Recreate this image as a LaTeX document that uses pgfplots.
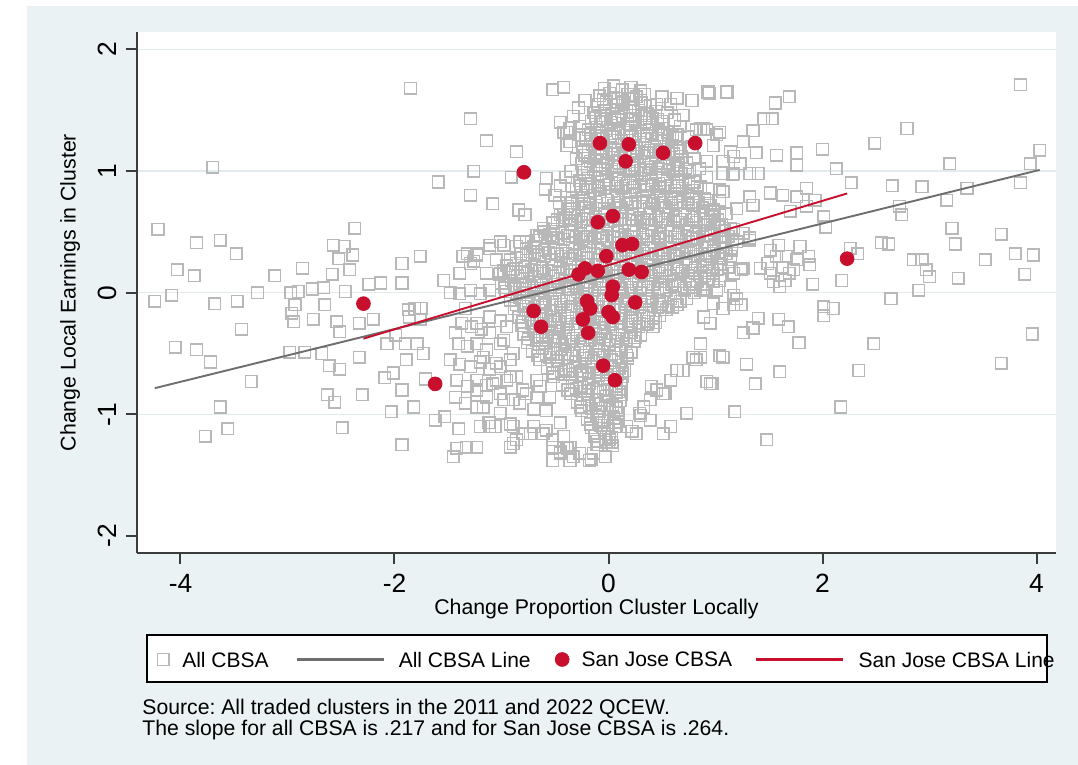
\documentclass[border=0pt]{standalone}
\usepackage{pgfplots}
\pgfplotsset{compat=1.18}
\usepackage{fontspec}
\setmainfont{Liberation Sans}
\frenchspacing

\definecolor{stbg}{HTML}{EAF2F3}
\definecolor{stgrid}{HTML}{E3EBEE}
\definecolor{staxis}{HTML}{3C3C3C}
\definecolor{sqgray}{HTML}{B8B8B8}
\definecolor{lngray}{HTML}{6E6E6E}
\definecolor{sjred}{HTML}{C8102E}

% legend keys with fixed cell widths
\pgfplotsset{
  sqkey/.style={legend image code/.code={\path (0pt,0pt) (17.25pt,0pt);
    \draw[##1] plot coordinates {(7.85pt,0pt)};}},
  grkey/.style={legend image code/.code={\path (0pt,0pt) (50.5pt,0pt);
    \path[draw=lngray, line width=1.05pt] (0pt,0pt) -- (43.5pt,0pt);}},
  dotkey/.style={legend image code/.code={\path (0pt,0pt) (19pt,0pt);
    \draw[##1] plot coordinates {(9.5pt,0pt)};}},
  rdkey/.style={legend image code/.code={\path (0pt,0pt) (50.7pt,0pt);
    \path[draw=sjred, line width=1.05pt] (0pt,0pt) -- (43.2pt,0pt);}},
}

\pgfplotstableread{
x y
-2.29 -0.09
-1.62 -0.75
-0.79 0.99
-0.08 1.23
0.19 1.22
0.16 1.08
0.51 1.15
0.81 1.23
-0.10 0.58
0.04 0.63
0.13 0.39
0.22 0.40
-0.02 0.30
-0.28 0.15
-0.22 0.20
-0.10 0.18
0.19 0.19
0.31 0.17
0.04 0.05
0.03 -0.02
-0.70 -0.15
-0.63 -0.28
-0.20 -0.07
-0.17 -0.13
-0.24 -0.22
0.00 -0.16
0.04 -0.20
0.25 -0.08
-0.19 -0.33
-0.05 -0.60
0.06 -0.72
2.23 0.28
}\sanjose

\begin{document}
\begin{tikzpicture}
\useasboundingbox (0,0) rectangle (539pt,-382.5pt);
\fill[white] (0,0) rectangle (539pt,-382.5pt);
\fill[stbg] (13.35pt,-3pt) rectangle (539pt,-382.5pt);
% legend frame
\filldraw[fill=white, draw=black, line width=0.6pt] (73.5pt,-317.5pt) rectangle (523.5pt,-341pt);

\begin{axis}[
  at={(68.5pt,-276.35pt)}, anchor=south west,
  scale only axis, width=459.5pt, height=260.2pt,
  xmin=-4.4065, xmax=4.1822, ymin=-2.138, ymax=2.141,
  clip marker paths=true,
  axis x line*=bottom, axis y line*=left,
  axis line style={staxis, line width=1pt},
  axis background/.style={fill=white},
  tick align=outside, major tick length=5.5pt,
  every tick/.style={staxis, line width=1pt},
  xtick={-4,-2,0,2,4}, ytick={-1,0,1,2},
  extra y ticks={-2}, extra y tick style={grid=none},
  ymajorgrids, grid style={stgrid, line width=0.8pt},
  /pgf/number format/assume math mode=true,
  tick label style={font=\fontsize{13.2pt}{15pt}\selectfont},
  xticklabel style={anchor=north, inner sep=0pt},
  yticklabel style={rotate=90, anchor=south, inner sep=0pt},
  xticklabel shift=5.1pt, yticklabel shift=4.6pt,
  xlabel={Change Proportion Cluster Locally},
  ylabel={Change Local Earnings in Cluster},
  label style={font=\fontsize{10.65pt}{13pt}\selectfont},
  xlabel style={at={(axis description cs:0.5,-0.1076)}, anchor=center},
  ylabel style={at={(axis description cs:-0.0727,0.5)}, anchor=center},
  legend columns=4,
  legend cell align=left,
  legend style={at={(axis description cs:0.01088,-0.2052)}, anchor=west,
    draw=none, fill=none, inner sep=0pt, outer sep=0pt,
    column sep=0pt, row sep=0pt,
    nodes={inner sep=0pt, text depth=0pt},
    font=\fontsize{10.5pt}{12.6pt}\selectfont},
]

% all CBSA clusters
\addplot[only marks, mark=square, mark size=2.9pt,
  mark options={draw=sqgray, line width=0.75pt, fill=none}, draw=sqgray, sqkey]
coordinates {
% far left
(-3.70,1.03) (-4.21,0.52) (-3.85,0.41) (-3.63,0.43) (-3.48,0.32) (-4.03,0.19)
(-3.87,0.14) (-4.08,-0.02) (-4.24,-0.07) (-3.68,-0.09) (-3.47,-0.07) (-3.28,0.00)
(-3.12,0.14) (-2.86,0.20) (-3.43,-0.30) (-4.05,-0.45) (-3.85,-0.47) (-3.72,-0.57)
(-3.34,-0.73) (-3.63,-0.94) (-3.56,-1.12) (-3.77,-1.18)
(-2.37,0.53) (-2.57,0.39) (-2.47,0.38) (-2.39,0.31) (-2.52,0.28) (-2.42,0.19)
(-2.58,0.15) (-2.97,0.00) (-2.90,0.01) (-2.77,0.03) (-2.66,0.04) (-2.46,0.01)
(-2.93,-0.10) (-2.96,-0.17) (-2.94,-0.24) (-2.76,-0.22) (-2.65,-0.10) (-2.54,-0.24)
(-2.51,-0.32) (-2.33,-0.25) (-2.20,-0.22) (-2.24,0.07) (-2.13,0.08)
(-2.98,-0.49) (-2.84,-0.49) (-2.68,-0.50) (-2.61,-0.60) (-2.51,-0.63) (-2.33,-0.53)
(-2.63,-0.84) (-2.56,-0.90) (-2.30,-0.84) (-2.49,-1.11)
(-1.93,0.24) (-1.93,0.08) (-1.87,-0.14) (-2.07,-0.42) (-1.99,-0.35) (-2.01,-0.66)
(-2.09,-0.70) (-1.93,-0.80) (-2.03,-0.98) (-1.93,-1.25)
% left of the main cloud
(-1.85,1.68) (-0.52,1.67) (-0.42,1.69) (-1.29,1.43) (-1.14,1.25) (-0.86,1.16)
(-1.26,1.00) (-1.59,0.91) (-1.29,0.80) (-1.08,0.73) (-0.91,0.95) (-0.58,0.94)
(-0.59,0.85) (-0.84,0.68) (-0.78,0.64) (-0.42,1.32) (-0.39,1.21)
(-1.76,0.30) (-1.54,0.10) (-1.36,0.30) (-1.29,0.24)
(-1.81,-0.13) (-1.75,-0.13) (-1.86,-0.20) (-1.76,-0.22) (-1.90,-0.42) (-1.79,-0.42)
(-1.73,-0.50) (-1.89,-0.55) (-1.71,-0.71) (-1.82,-0.94) (-1.62,-1.05) (-1.53,-1.02)
(-1.40,-1.12) (-1.45,-1.35) (-1.42,-1.28) (-1.33,-1.27) (-1.23,-1.27) (-1.12,-1.07)
(-1.06,-1.10) (-0.92,-1.27) (-0.86,-1.21) (-0.80,-1.16) (-0.70,-0.96) (-0.55,-0.86)
(-0.45,-1.07) (-0.42,-1.27) (-0.52,-1.38)
(-1.32,0.32) (-1.23,0.32) (-1.11,0.39) (-1.01,0.42) (-1.05,0.27) (-1.14,0.16)
(-1.01,0.16) (-0.92,0.27) (-0.86,0.38) (-0.77,0.42) (-0.70,0.38) (-1.39,0.16)
(-1.48,0.00) (-1.39,-0.01) (-1.29,0.02) (-1.20,-0.01) (-1.11,0.02) (-1.34,-0.13)
(-1.37,-0.25) (-1.28,-0.28) (-1.19,-0.30) (-1.11,-0.20) (-1.01,-0.23) (-0.95,-0.28)
(-1.43,-0.33) (-1.40,-0.42) (-1.32,-0.44) (-1.23,-0.42) (-1.14,-0.47) (-1.01,-0.42)
(-1.48,-0.55) (-1.39,-0.59) (-1.29,-0.61) (-1.20,-0.57) (-1.11,-0.63) (-1.01,-0.61)
(-0.92,-0.55) (-1.42,-0.72) (-1.32,-0.77) (-1.23,-0.80) (-1.14,-0.76) (-1.05,-0.72)
(-0.95,-0.72) (-0.86,-0.69) (-1.43,-0.86) (-1.34,-0.91) (-1.23,-0.94) (-1.14,-0.86)
(-1.01,-0.83) (-0.89,-0.88) (-0.77,-0.83) (-0.64,-0.77) (-1.20,-1.10) (-1.11,-1.10)
(-1.01,-0.99) (-0.92,-1.08) (-0.70,-1.10) (-0.61,-1.16) (-0.52,-1.21)
(-1.23,-0.25) (-1.11,-0.33) (-0.98,-0.39) (-1.17,-0.53) (-1.05,-0.58) (-0.89,-0.50)
(-1.23,-0.72) (-1.08,-0.75) (-0.92,-0.69) (-0.80,-0.80) (-0.67,-0.72) (-1.17,-0.94)
(-0.98,-0.88) (-0.83,-0.91) (-0.67,-0.86) (-0.58,-0.97) (-1.11,-1.07) (-0.89,-1.10)
(-0.73,-1.16) (-0.58,-1.13) (-0.42,-1.18) (-0.36,-1.27) (-0.27,-1.32) (-0.89,-1.24)
(-1.23,-1.27) (-0.52,-1.27) (-0.45,-1.32) (-0.36,-1.38) (-0.18,-1.38) (-0.03,-1.35)
(-0.45,-1.31) (-0.38,-1.28) (-0.11,-1.25) (0.00,-1.23) (-0.16,-1.37) (-0.33,-1.35)
(-0.39,-1.27) (-0.14,-1.32) (0.01,-1.21)
(-0.36,1.35) (-0.27,1.30) (-0.36,1.24) (-0.24,1.16) (-0.14,1.05) (-0.14,1.48)
(-0.27,1.37) (-0.39,1.32) (-0.17,1.26)
(-0.52,0.58) (-0.42,0.64) (-0.36,0.69) (-0.61,0.53) (-0.67,0.47) (-0.83,0.42)
(-0.98,0.39) (-1.11,0.36) (-1.23,0.31) (-1.26,0.26)
(-0.45,1.40) (-0.33,1.45) (-0.28,1.52) (-0.22,1.58) (-0.30,1.10) (-0.35,1.00)
(-0.40,0.95) (-0.45,0.88) (-0.50,0.80) (-0.46,0.74)
% top of the plume
(0.50,1.61) (0.64,1.60) (0.78,1.58) (0.93,1.65) (1.10,1.65) (0.67,1.37)
(0.82,1.34) (0.92,1.34) (0.51,1.35) (0.64,1.30) (0.89,1.35) (1.01,1.30) (1.14,1.16)
(1.07,1.08) (1.16,0.97) (1.07,0.83) (1.20,0.69) (1.04,0.64) (1.14,0.53) (0.95,0.47)
(0.89,0.58) (0.45,1.55) (0.55,1.48) (0.62,1.42) (0.70,1.46) (0.58,1.55) (0.80,1.10)
(0.78,1.20) (0.74,1.28) (0.85,1.02) (0.92,1.08)
% lower right of the main cloud
(0.22,-1.14) (0.30,-1.01) (0.53,-0.83) (0.40,-0.77) (0.92,-0.73) (0.79,-0.53)
(0.86,-0.42) (0.64,-0.64) (0.51,-0.83) (0.39,-0.88) (0.29,-0.99) (0.17,-1.10)
(0.39,-1.05) (0.51,-1.16) (0.58,-1.10) (0.26,-1.16) (0.33,-0.94) (0.45,-0.80)
(0.58,-0.72) (0.70,-0.64) (0.82,-0.55) (0.95,-0.75) (1.07,-0.53) (0.73,-0.99)
% right side
(3.85,1.71) (2.79,1.35) (2.49,1.23) (4.03,1.17) (3.94,1.06) (3.19,1.06) (3.85,0.905)
(2.27,0.905) (2.13,1.02) (2.00,1.18) (2.65,0.88) (2.93,0.87) (3.35,0.86) (3.16,0.76)
(2.72,0.71) (2.74,0.64) (3.21,0.53) (3.67,0.48) (3.24,0.40) (2.55,0.41) (2.62,0.40)
(2.26,0.365) (2.33,0.32) (2.18,0.10) (2.85,0.27) (2.93,0.27) (2.97,0.19) (3.00,0.13)
(2.90,0.02) (3.27,0.12) (3.52,0.27) (3.80,0.32) (3.97,0.31) (3.89,0.15) (2.64,-0.05)
(3.96,-0.34) (3.67,-0.58) (2.48,-0.42) (2.34,-0.64) (2.17,-0.94) (1.48,-1.21)
(1.18,-0.98) (0.97,-0.75) (1.37,-0.75) (1.60,-0.65) (1.29,-0.59) (1.04,-0.52)
(0.86,-0.53) (1.78,-0.41) (1.26,-0.33) (1.35,-0.29) (1.40,-0.21) (1.59,-0.22)
(1.68,-0.28) (2.01,-0.115) (2.01,-0.19) (2.10,-0.13) (1.91,0.07) (1.79,0.38)
(1.87,0.30) (1.88,0.23) (1.76,0.27) (1.73,0.19) (1.51,0.35) (1.57,0.30) (1.49,0.24)
(1.51,0.16) (1.54,0.09) (1.60,0.05) (1.65,0.10) (1.69,0.16) (1.63,0.21) (1.66,0.30)
(1.59,0.39) (1.42,0.20) (1.24,0.19) (1.32,0.45) (1.51,0.82) (1.63,0.80) (1.76,0.79)
(1.85,0.86) (1.93,0.76) (2.01,0.625) (2.03,0.54) (1.85,0.71) (1.70,0.67) (1.57,1.13)
(1.76,1.15) (1.76,1.05) (1.38,1.15) (1.56,1.56) (1.69,1.61) (1.45,1.43) (1.53,1.43)
(1.35,1.33) (1.26,1.24) (0.94,1.64) (1.11,1.65) (1.04,1.32) (0.98,1.21) (0.86,1.35)
(1.17,1.12) (1.23,1.06) (1.32,0.98) (1.40,0.98) (1.17,0.98) (1.07,0.98) (0.92,0.95)
(1.04,0.845) (1.04,0.76) (0.92,0.76) (0.98,0.68) (1.10,0.65) (1.04,0.54) (0.86,0.87)
(1.32,0.79) (1.35,0.72) (1.17,0.52) (1.26,0.49) (1.32,0.43) (1.20,0.42) (1.07,0.46)
(0.98,0.38) (0.95,0.30) (1.04,0.24) (1.14,0.27) (1.26,0.20) (1.17,0.16) (0.92,0.21)
(1.04,0.10) (1.14,0.05) (0.89,0.02) (0.98,-0.09) (1.07,-0.13) (1.17,-0.10)
(1.24,-0.10) (0.89,-0.20) (0.95,-0.25) (1.17,-0.02) (1.20,-0.05) (0.92,0.02)
(1.01,0.02) (0.86,0.13)
% dense core
(-0.04,1.68) (0.05,1.70) (0.13,1.67) (0.21,1.69) (0.30,1.66)
(-0.08,1.62) (0.01,1.64) (0.09,1.60) (0.18,1.63) (0.26,1.61) (0.34,1.63)
(-0.10,1.55) (-0.02,1.57) (0.07,1.54) (0.14,1.56) (0.23,1.53) (0.31,1.56) (0.39,1.54)
(-0.13,1.48) (-0.04,1.50) (0.03,1.47) (0.12,1.49) (0.20,1.46) (0.28,1.50) (0.36,1.47) (0.44,1.49)
(-0.16,1.41) (-0.07,1.43) (0.02,1.40) (0.09,1.42) (0.18,1.39) (0.25,1.42) (0.34,1.40) (0.41,1.43) (0.50,1.41)
(-0.19,1.34) (-0.11,1.36) (-0.02,1.33) (0.05,1.35) (0.14,1.32) (0.21,1.35) (0.30,1.33) (0.38,1.36) (0.47,1.34) (0.55,1.32)
(-0.21,1.27) (-0.12,1.29) (-0.05,1.26) (0.04,1.28) (0.12,1.25) (0.20,1.28) (0.29,1.26) (0.36,1.29) (0.45,1.27) (0.52,1.25) (0.60,1.28)
(-0.24,1.20) (-0.15,1.22) (-0.07,1.19) (0.02,1.21) (0.09,1.18) (0.18,1.21) (0.26,1.19) (0.34,1.22) (0.43,1.20) (0.50,1.18) (0.59,1.21) (0.66,1.19)
(-0.22,1.13) (-0.13,1.15) (-0.06,1.12) (0.03,1.14) (0.11,1.11) (0.20,1.14) (0.27,1.12) (0.36,1.15) (0.44,1.13) (0.52,1.11) (0.61,1.14) (0.68,1.12)
(-0.25,1.06) (-0.17,1.08) (-0.08,1.05) (-0.01,1.07) (0.08,1.04) (0.16,1.07) (0.24,1.05) (0.33,1.08) (0.40,1.06) (0.49,1.04) (0.57,1.07) (0.65,1.05) (0.73,1.07)
(-0.23,0.99) (-0.14,1.01) (-0.06,0.98) (0.03,1.00) (0.10,0.97) (0.19,1.00) (0.27,0.98) (0.35,1.01) (0.44,0.99) (0.51,0.97) (0.60,1.00) (0.68,0.98) (0.76,1.00)
(-0.27,0.92) (-0.19,0.94) (-0.10,0.91) (-0.02,0.93) (0.07,0.90) (0.14,0.93) (0.23,0.91) (0.31,0.94) (0.40,0.92) (0.47,0.90) (0.55,0.93) (0.64,0.91) (0.72,0.93) (0.80,0.91)
(-0.30,0.85) (-0.21,0.87) (-0.13,0.84) (-0.04,0.86) (0.03,0.83) (0.12,0.86) (0.20,0.84) (0.29,0.87) (0.36,0.85) (0.45,0.83) (0.53,0.86) (0.62,0.84) (0.69,0.86) (0.78,0.84) (0.86,0.86)
(-0.34,0.78) (-0.25,0.80) (-0.17,0.77) (-0.08,0.79) (-0.01,0.76) (0.08,0.79) (0.16,0.77) (0.25,0.80) (0.32,0.78) (0.41,0.76) (0.49,0.79) (0.58,0.77) (0.65,0.79) (0.74,0.77) (0.82,0.79) (0.90,0.77)
(-0.38,0.71) (-0.29,0.73) (-0.21,0.70) (-0.12,0.72) (-0.04,0.69) (0.05,0.72) (0.12,0.70) (0.21,0.73) (0.29,0.71) (0.38,0.69) (0.46,0.72) (0.54,0.70) (0.63,0.72) (0.71,0.70) (0.79,0.72) (0.88,0.70) (0.95,0.72)
(-0.45,0.64) (-0.36,0.66) (-0.28,0.63) (-0.19,0.65) (-0.12,0.62) (-0.03,0.65) (0.06,0.63) (0.13,0.66) (0.22,0.64) (0.30,0.62) (0.39,0.65) (0.47,0.63) (0.56,0.65) (0.63,0.63) (0.72,0.65) (0.80,0.63) (0.89,0.65) (0.97,0.63)
(-0.52,0.57) (-0.43,0.59) (-0.35,0.56) (-0.26,0.58) (-0.19,0.55) (-0.10,0.58) (-0.01,0.56) (0.06,0.59) (0.15,0.57) (0.23,0.55) (0.32,0.58) (0.40,0.56) (0.49,0.58) (0.56,0.56) (0.65,0.58) (0.73,0.56) (0.82,0.58) (0.90,0.56) (0.99,0.58) (1.06,0.56)
(-0.60,0.50) (-0.51,0.52) (-0.43,0.49) (-0.34,0.51) (-0.26,0.48) (-0.17,0.51) (-0.10,0.49) (-0.01,0.52) (0.08,0.50) (0.15,0.48) (0.24,0.51) (0.32,0.49) (0.41,0.51) (0.49,0.49) (0.58,0.51) (0.65,0.49) (0.74,0.51) (0.82,0.49) (0.91,0.51) (0.99,0.49) (1.08,0.51) (1.15,0.49)
(-0.68,0.43) (-0.59,0.45) (-0.51,0.42) (-0.42,0.44) (-0.34,0.41) (-0.25,0.44) (-0.17,0.42) (-0.08,0.45) (-0.01,0.43) (0.08,0.41) (0.16,0.44) (0.25,0.42) (0.33,0.44) (0.42,0.42) (0.49,0.44) (0.58,0.42) (0.66,0.44) (0.75,0.42) (0.83,0.44) (0.92,0.42) (0.99,0.44) (1.08,0.42) (1.16,0.44)
(-0.77,0.36) (-0.68,0.38) (-0.60,0.35) (-0.51,0.37) (-0.43,0.34) (-0.34,0.37) (-0.27,0.35) (-0.18,0.38) (-0.10,0.36) (-0.01,0.34) (0.07,0.37) (0.16,0.35) (0.23,0.37) (0.32,0.35) (0.40,0.37) (0.49,0.35) (0.57,0.37) (0.66,0.35) (0.73,0.37) (0.82,0.35) (0.90,0.37) (0.99,0.35) (1.07,0.37) (1.15,0.35)
(-0.86,0.29) (-0.77,0.31) (-0.69,0.28) (-0.60,0.30) (-0.53,0.27) (-0.44,0.30) (-0.36,0.28) (-0.27,0.31) (-0.19,0.29) (-0.10,0.27) (-0.03,0.30) (0.06,0.28) (0.14,0.30) (0.23,0.28) (0.31,0.30) (0.40,0.28) (0.47,0.30) (0.56,0.28) (0.64,0.30) (0.73,0.28) (0.81,0.30) (0.90,0.28) (0.97,0.30) (1.06,0.28) (1.14,0.30)
(-0.95,0.22) (-0.86,0.24) (-0.78,0.21) (-0.69,0.23) (-0.62,0.20) (-0.53,0.23) (-0.45,0.21) (-0.36,0.24) (-0.28,0.22) (-0.19,0.20) (-0.12,0.23) (-0.03,0.21) (0.05,0.23) (0.14,0.21) (0.22,0.23) (0.31,0.21) (0.38,0.23) (0.47,0.21) (0.55,0.23) (0.64,0.21) (0.72,0.23) (0.81,0.21) (0.88,0.23) (0.97,0.21) (1.05,0.23) (1.12,0.21)
(-1.02,0.15) (-0.93,0.17) (-0.85,0.14) (-0.76,0.16) (-0.69,0.13) (-0.60,0.16) (-0.52,0.14) (-0.43,0.17) (-0.35,0.15) (-0.26,0.13) (-0.19,0.16) (-0.10,0.14) (-0.02,0.16) (0.07,0.14) (0.15,0.16) (0.24,0.14) (0.31,0.16) (0.40,0.14) (0.48,0.16) (0.57,0.14) (0.65,0.16) (0.74,0.14) (0.81,0.16) (0.90,0.14) (0.98,0.16) (1.05,0.14)
(-1.00,0.08) (-0.91,0.10) (-0.83,0.07) (-0.74,0.09) (-0.67,0.06) (-0.58,0.09) (-0.50,0.07) (-0.41,0.10) (-0.33,0.08) (-0.24,0.06) (-0.17,0.09) (-0.08,0.07) (0.00,0.09) (0.09,0.07) (0.17,0.09) (0.26,0.07) (0.33,0.09) (0.42,0.07) (0.50,0.09) (0.59,0.07) (0.67,0.09) (0.76,0.07) (0.83,0.09) (0.92,0.07) (0.98,0.09)
(-0.96,0.01) (-0.87,0.03) (-0.79,0.00) (-0.70,0.02) (-0.63,-0.01) (-0.54,0.02) (-0.46,0.00) (-0.37,0.03) (-0.29,0.01) (-0.20,-0.01) (-0.13,0.02) (-0.04,0.00) (0.04,0.02) (0.13,0.00) (0.21,0.02) (0.30,0.00) (0.37,0.02) (0.46,0.00) (0.54,0.02) (0.63,0.00) (0.71,0.02) (0.80,0.00) (0.86,0.02)
(-0.92,-0.06) (-0.83,-0.04) (-0.75,-0.07) (-0.66,-0.05) (-0.59,-0.08) (-0.50,-0.05) (-0.42,-0.07) (-0.33,-0.04) (-0.25,-0.06) (-0.16,-0.08) (-0.09,-0.05) (0.00,-0.07) (0.08,-0.05) (0.17,-0.07) (0.25,-0.05) (0.34,-0.07) (0.41,-0.05) (0.50,-0.07) (0.58,-0.05) (0.67,-0.07) (0.73,-0.05)
(-0.88,-0.13) (-0.79,-0.11) (-0.71,-0.14) (-0.62,-0.12) (-0.54,-0.15) (-0.45,-0.12) (-0.38,-0.14) (-0.29,-0.11) (-0.21,-0.13) (-0.12,-0.15) (-0.04,-0.12) (0.05,-0.14) (0.12,-0.12) (0.21,-0.14) (0.29,-0.12) (0.38,-0.14) (0.46,-0.12) (0.54,-0.14) (0.60,-0.12)
(-0.84,-0.20) (-0.75,-0.18) (-0.67,-0.21) (-0.58,-0.19) (-0.50,-0.22) (-0.41,-0.19) (-0.34,-0.21) (-0.25,-0.18) (-0.17,-0.20) (-0.08,-0.22) (0.00,-0.19) (0.09,-0.21) (0.16,-0.19) (0.25,-0.21) (0.33,-0.19) (0.42,-0.21) (0.48,-0.19)
(-0.81,-0.27) (-0.72,-0.25) (-0.64,-0.28) (-0.55,-0.26) (-0.48,-0.29) (-0.39,-0.26) (-0.31,-0.28) (-0.22,-0.25) (-0.14,-0.27) (-0.05,-0.29) (0.02,-0.26) (0.11,-0.28) (0.19,-0.26) (0.28,-0.28) (0.36,-0.26) (0.42,-0.28)
(-0.79,-0.34) (-0.70,-0.32) (-0.62,-0.35) (-0.53,-0.33) (-0.46,-0.36) (-0.37,-0.33) (-0.29,-0.35) (-0.20,-0.32) (-0.12,-0.34) (-0.03,-0.36) (0.04,-0.33) (0.13,-0.35) (0.21,-0.33) (0.30,-0.35)
(-0.76,-0.41) (-0.67,-0.39) (-0.59,-0.42) (-0.50,-0.40) (-0.43,-0.43) (-0.34,-0.40) (-0.26,-0.42) (-0.17,-0.39) (-0.09,-0.41) (0.00,-0.43) (0.07,-0.40) (0.16,-0.42) (0.24,-0.40)
(-0.71,-0.48) (-0.62,-0.46) (-0.54,-0.49) (-0.45,-0.47) (-0.38,-0.50) (-0.29,-0.47) (-0.21,-0.49) (-0.12,-0.46) (-0.04,-0.48) (0.05,-0.50) (0.12,-0.47) (0.21,-0.49)
(-0.64,-0.55) (-0.55,-0.53) (-0.47,-0.56) (-0.38,-0.54) (-0.31,-0.57) (-0.22,-0.54) (-0.14,-0.56) (-0.05,-0.53) (0.03,-0.55) (0.12,-0.57) (0.18,-0.54)
(-0.57,-0.62) (-0.48,-0.60) (-0.40,-0.63) (-0.31,-0.61) (-0.24,-0.64) (-0.15,-0.61) (-0.07,-0.63) (0.02,-0.60) (0.10,-0.62) (0.15,-0.64)
(-0.51,-0.69) (-0.42,-0.67) (-0.34,-0.70) (-0.25,-0.68) (-0.18,-0.71) (-0.09,-0.68) (-0.01,-0.70) (0.08,-0.67) (0.13,-0.69)
(-0.43,-0.76) (-0.34,-0.74) (-0.27,-0.77) (-0.18,-0.75) (-0.10,-0.78) (-0.01,-0.75) (0.07,-0.77) (0.12,-0.74)
(-0.35,-0.83) (-0.26,-0.81) (-0.19,-0.84) (-0.10,-0.82) (-0.02,-0.85) (0.07,-0.82) (0.12,-0.84)
(-0.29,-0.90) (-0.20,-0.88) (-0.12,-0.91) (-0.03,-0.89) (0.04,-0.92) (0.11,-0.89)
(-0.25,-0.97) (-0.16,-0.95) (-0.08,-0.98) (0.01,-0.96) (0.09,-0.99)
(-0.20,-1.04) (-0.11,-1.02) (-0.04,-1.05) (0.05,-1.03) (0.09,-1.06)
(-0.16,-1.11) (-0.07,-1.09) (0.00,-1.12) (0.07,-1.10)
(-0.13,-1.18) (-0.04,-1.16) (0.03,-1.19)
(-0.10,-1.25) (-0.02,-1.23) (0.04,-1.26)
% dense core, overlapping second layer
(-0.05,1.585) (0.05,1.595) (0.13,1.575) (0.22,1.59) (0.30,1.58)
(-0.12,1.44) (-0.03,1.455) (0.06,1.435) (0.14,1.45) (0.22,1.43) (0.31,1.455) (0.38,1.44) (0.46,1.425)
(-0.17,1.30) (-0.08,1.315) (0.01,1.29) (0.09,1.31) (0.17,1.295) (0.25,1.305) (0.33,1.285) (0.41,1.31) (0.50,1.30) (0.57,1.29)
(-0.19,1.16) (-0.10,1.175) (-0.02,1.15) (0.06,1.17) (0.15,1.155) (0.23,1.165) (0.31,1.145) (0.39,1.17) (0.48,1.16) (0.56,1.15) (0.64,1.165)
(-0.20,1.02) (-0.11,1.035) (-0.03,1.01) (0.06,1.03) (0.14,1.015) (0.22,1.025) (0.30,1.005) (0.39,1.03) (0.47,1.02) (0.56,1.01) (0.64,1.025) (0.72,1.015)
(-0.26,0.88) (-0.17,0.895) (-0.09,0.87) (0.00,0.89) (0.08,0.875) (0.16,0.885) (0.24,0.865) (0.33,0.89) (0.41,0.88) (0.49,0.87) (0.58,0.885) (0.66,0.875) (0.75,0.89) (0.83,0.87)
(-0.34,0.74) (-0.25,0.755) (-0.17,0.73) (-0.08,0.75) (0.00,0.735) (0.08,0.745) (0.17,0.725) (0.25,0.75) (0.33,0.74) (0.42,0.73) (0.50,0.745) (0.59,0.735) (0.67,0.75) (0.75,0.73) (0.84,0.745) (0.92,0.735)
(-0.48,0.60) (-0.40,0.615) (-0.31,0.59) (-0.23,0.61) (-0.14,0.595) (-0.06,0.605) (0.02,0.585) (0.11,0.61) (0.19,0.60) (0.27,0.59) (0.36,0.605) (0.44,0.595) (0.53,0.61) (0.61,0.59) (0.69,0.605) (0.78,0.595) (0.86,0.61) (0.95,0.59) (1.02,0.60)
(-0.64,0.46) (-0.55,0.475) (-0.47,0.45) (-0.38,0.47) (-0.30,0.455) (-0.21,0.465) (-0.13,0.445) (-0.05,0.47) (0.04,0.46) (0.12,0.45) (0.21,0.465) (0.29,0.455) (0.37,0.47) (0.46,0.45) (0.54,0.465) (0.62,0.455) (0.71,0.47) (0.79,0.45) (0.88,0.46) (0.96,0.475) (1.04,0.455) (1.12,0.465)
(-0.82,0.32) (-0.73,0.335) (-0.65,0.31) (-0.56,0.33) (-0.48,0.315) (-0.40,0.325) (-0.31,0.305) (-0.23,0.33) (-0.14,0.32) (-0.06,0.31) (0.02,0.325) (0.11,0.315) (0.19,0.33) (0.27,0.31) (0.36,0.325) (0.44,0.315) (0.52,0.33) (0.61,0.31) (0.69,0.32) (0.77,0.335) (0.86,0.315) (0.94,0.325) (1.02,0.305) (1.10,0.32)
(-0.98,0.18) (-0.89,0.195) (-0.81,0.17) (-0.72,0.19) (-0.64,0.175) (-0.56,0.185) (-0.47,0.165) (-0.39,0.19) (-0.31,0.18) (-0.22,0.17) (-0.14,0.185) (-0.06,0.175) (0.03,0.19) (0.11,0.17) (0.19,0.185) (0.28,0.175) (0.36,0.19) (0.44,0.17) (0.53,0.18) (0.61,0.195) (0.69,0.175) (0.78,0.185) (0.86,0.165) (0.94,0.18) (1.02,0.19)
(-0.97,0.04) (-0.88,0.055) (-0.80,0.03) (-0.72,0.05) (-0.63,0.035) (-0.55,0.045) (-0.46,0.025) (-0.38,0.05) (-0.30,0.04) (-0.21,0.03) (-0.13,0.045) (-0.05,0.035) (0.04,0.05) (0.12,0.03) (0.21,0.045) (0.29,0.035) (0.37,0.05) (0.46,0.03) (0.54,0.04) (0.62,0.055) (0.71,0.035) (0.79,0.045) (0.88,0.03)
(-0.86,-0.10) (-0.77,-0.085) (-0.69,-0.11) (-0.60,-0.09) (-0.52,-0.105) (-0.44,-0.095) (-0.35,-0.115) (-0.27,-0.09) (-0.19,-0.10) (-0.10,-0.11) (-0.02,-0.095) (0.06,-0.105) (0.15,-0.09) (0.23,-0.11) (0.31,-0.095) (0.40,-0.105) (0.48,-0.09) (0.56,-0.11) (0.64,-0.10)
(-0.80,-0.24) (-0.71,-0.225) (-0.63,-0.25) (-0.54,-0.23) (-0.46,-0.245) (-0.38,-0.235) (-0.29,-0.255) (-0.21,-0.23) (-0.13,-0.24) (-0.04,-0.25) (0.04,-0.235) (0.12,-0.245) (0.21,-0.23) (0.29,-0.25) (0.37,-0.235) (0.44,-0.245)
(-0.75,-0.38) (-0.66,-0.365) (-0.58,-0.39) (-0.50,-0.37) (-0.41,-0.385) (-0.33,-0.375) (-0.24,-0.395) (-0.16,-0.37) (-0.08,-0.38) (0.01,-0.39) (0.09,-0.375) (0.17,-0.385) (0.25,-0.37)
(-0.66,-0.52) (-0.58,-0.505) (-0.49,-0.53) (-0.41,-0.51) (-0.33,-0.525) (-0.24,-0.515) (-0.16,-0.535) (-0.08,-0.51) (0.01,-0.52) (0.09,-0.53) (0.17,-0.515)
(-0.52,-0.66) (-0.44,-0.645) (-0.36,-0.67) (-0.27,-0.65) (-0.19,-0.665) (-0.11,-0.655) (-0.02,-0.675) (0.06,-0.65) (0.13,-0.66)
(-0.38,-0.80) (-0.30,-0.785) (-0.22,-0.81) (-0.14,-0.79) (-0.05,-0.805) (0.03,-0.795) (0.10,-0.815)
(-0.26,-0.94) (-0.18,-0.925) (-0.10,-0.95) (-0.01,-0.93) (0.07,-0.945)
(-0.17,-1.08) (-0.09,-1.065) (-0.01,-1.09) (0.06,-1.07)
(-0.11,-1.22) (-0.03,-1.205) (0.03,-1.23)
};
\addlegendentry{\makebox[56.75pt][l]{All CBSA}}

% fitted line, all CBSA (slope .217)
\addplot[lngray, line width=0.95pt, grkey]
coordinates {(-4.24,-0.785) (4.03,1.0095)};
\addlegendentry{\makebox[72pt][l]{All CBSA Line}}

% San Jose clusters
\addplot[only marks, mark=*, mark size=3.45pt, sjred,
  mark options={draw=sjred, fill=sjred}, dotkey]
table[x=x, y=y] {\sanjose};
\addlegendentry{\makebox[86.8pt][l]{San Jose CBSA}}

% fitted line, San Jose CBSA (slope .264)
\addplot[sjred, line width=0.95pt, rdkey]
coordinates {(-2.29,-0.378) (2.23,0.816)};
\addlegendentry{San Jose CBSA Line}
\end{axis}

\node[anchor=base west, inner sep=0pt, font=\fontsize{10.6pt}{10.6pt}\selectfont]
  at (71pt,-357.15pt) {Source: All traded clusters in the 2011 and 2022 QCEW.};
\node[anchor=base west, inner sep=0pt, font=\fontsize{10.6pt}{10.6pt}\selectfont]
  at (71pt,-367.75pt) {The slope for all CBSA is .217 and for San Jose CBSA is .264.};
\end{tikzpicture}
\end{document}
